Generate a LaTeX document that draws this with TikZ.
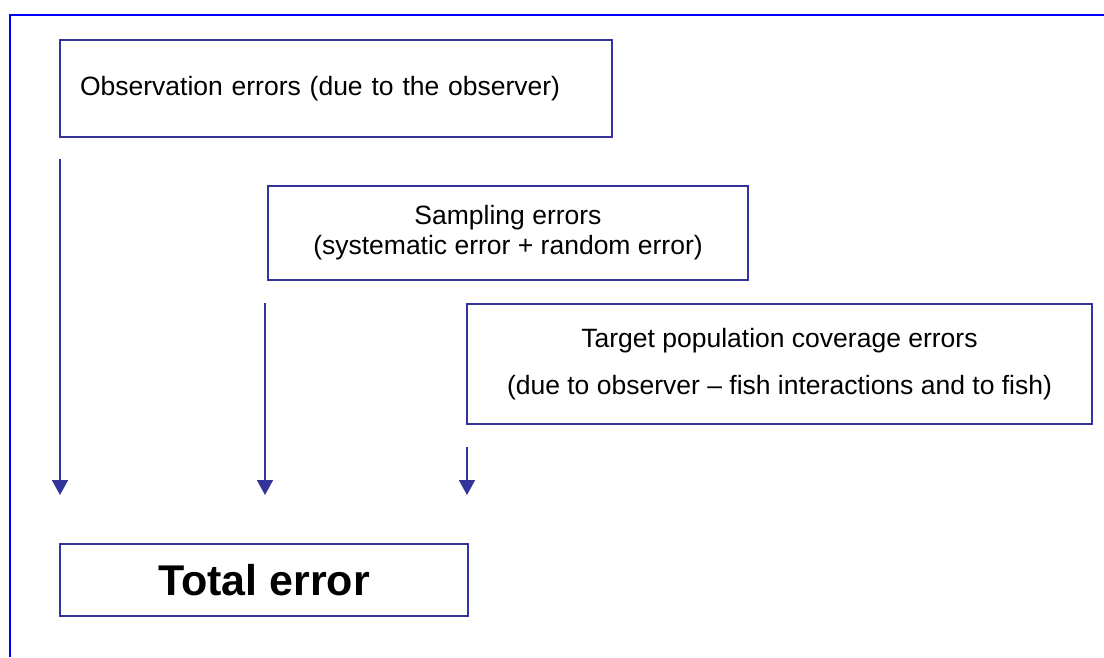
\documentclass[tikz,border=0pt]{standalone}
\usepackage{fontspec}
\setmainfont{Liberation Sans}
\usetikzlibrary{arrows.meta}
\definecolor{boxblue}{RGB}{51,51,153}
\definecolor{frameblue}{RGB}{0,0,255}

\begin{document}
\begin{tikzpicture}
  [x=1pt,y=-1pt,
   errbox/.style={draw=boxblue,line width=1.5pt,rectangle,inner sep=0pt,
     font=\fontsize{26.5}{30}\selectfont},
   down/.style={boxblue,line width=1.8pt,-{Triangle[width=16pt,length=15pt]}}]
  \useasboundingbox (0,0) rectangle (1104,657);
  \draw[frameblue,line width=2pt] (10,657) -- (10,15) -- (1104,15);

  \node[errbox,minimum width=552pt,minimum height=97pt,text width=512pt,align=left] (obs) at (336,88.5) {Observation errors (due to the observer)};
  \node[errbox,minimum width=480pt,minimum height=94pt,align=center] (samp) at (508,233) {Sampling errors\\(systematic error + random error)};
  \node[errbox,minimum width=625pt,minimum height=120pt,align=center] (targ) at (779.5,364) {Target population coverage errors\\[17pt](due to observer -- fish interactions and to fish)};
  \node[errbox,minimum width=408pt,minimum height=72pt,font=\fontsize{43}{50}\selectfont\bfseries] (total) at (264,580) {Total error};

  \coordinate (o1) at (60,159);
  \coordinate (o2) at (60,495);
  \coordinate (s1) at (265,303);
  \coordinate (s2) at (265,495);
  \coordinate (t1) at (467,447);
  \coordinate (t2) at (467,495);

  \foreach \from/\to in {o1/o2,s1/s2,t1/t2}
    \draw[down] (\from) -- (\to);

\end{tikzpicture}
\end{document}
